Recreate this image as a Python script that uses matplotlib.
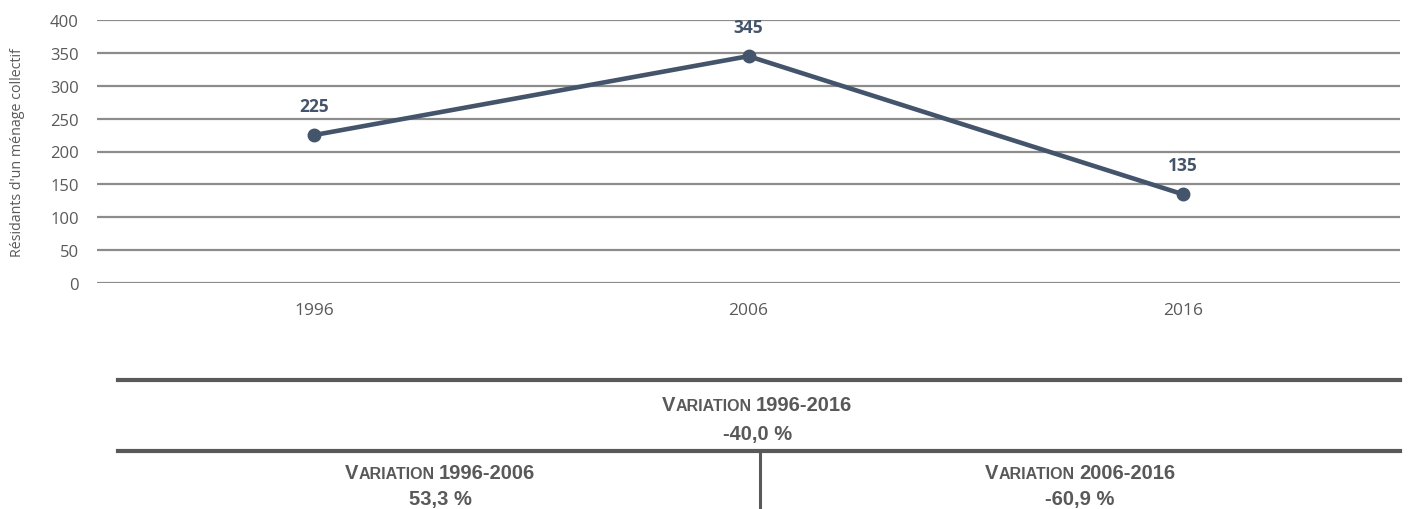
import numpy as np
import matplotlib.pyplot as plt

# data
years = ["1996", "2006", "2016"]
residents = [225, 345, 135]
yticks = [0, 50, 100, 150, 200, 250, 300, 350, 400]
ylabel = "Résidants d'un ménage collectif"

total_title = "Variation 1996-2016"
total_value = "-40,0 %"
sub_titles = ["Variation 1996-2006", "Variation 2006-2016"]
sub_values = ["53,3 %", "-60,9 %"]

line_col = "#44546A"
grey = "#595959"
W, H = 1416, 510

plt.rcParams['font.family'] = ['Open Sans', 'DejaVu Sans']

fig = plt.figure(figsize=(W / 100, H / 100), dpi=100)
ax = fig.add_axes([97 / W, 1 - 284 / H, (1400 - 97) / W, (284 - 21) / H])

x = np.arange(len(years))
ax.plot(x, residents, color=line_col, lw=3.3, marker="o", ms=9, zorder=3)
for xi, v in zip(x, residents):
    ax.annotate(str(v), (xi, v), xytext=(0, 21), textcoords="offset points",
                ha="center", va="center", fontsize=12.5, fontweight="bold",
                color=line_col)

ax.set_xlim(-0.5, len(years) - 0.5)
ax.set_ylim(0, 400)
ax.set_yticks(yticks)
ax.set_xticks(x)
ax.set_xticklabels(years)
ax.yaxis.grid(True, color="#8C8C8C", lw=1.6)
ax.set_axisbelow(True)
for s in ax.spines.values():
    s.set_visible(False)
ax.tick_params(axis="y", length=0, pad=13, labelsize=12, labelcolor=grey)
ax.tick_params(axis="x", length=0, pad=14, labelsize=12.5, labelcolor=grey)
ax.set_ylabel(ylabel, fontsize=10.3, color=grey)
ax.yaxis.set_label_coords(-0.0555, 0.5)

# summary table below the chart
def fx(px):
    return px / W

def fy(py):
    return 1 - py / H

for yy in (381, 452):
    fig.add_artist(plt.Line2D([fx(118), fx(1400)], [fy(yy), fy(yy)],
                              color=grey, lw=3))
fig.add_artist(plt.Line2D([fx(760), fx(760)], [fy(452), fy(512)],
                          color=grey, lw=2.2))

arial = ['Liberation Sans', 'DejaVu Sans']
renderer = fig.canvas.get_renderer()


def small_caps(cx, cy, txt, big=14.5, small=11.5):
    # capital letters big, the rest upper-cased and smaller
    parts = []
    for word in txt.split(" "):
        if parts:
            parts.append((" ", small))
        if word[0].isalpha():
            parts.append((word[0].upper(), big))
            if len(word) > 1:
                parts.append((word[1:].upper(), small))
        else:
            parts.append((word, big))
    widths = []
    for t, sz in parts:
        tmp = fig.text(0, 0, t, fontsize=sz, fontweight="bold", family=arial)
        widths.append(tmp.get_window_extent(renderer).width)
        tmp.remove()
    start = cx - sum(widths) / 2
    for (t, sz), w in zip(parts, widths):
        fig.text(fx(start), fy(cy), t, fontsize=sz, fontweight="bold",
                 family=arial, color=grey, ha="left", va="baseline")
        start += w


small_caps(757, 411, total_title)
fig.text(fx(758), fy(440), total_value, fontsize=14.5, fontweight="bold",
         family=arial, color=grey, ha="center", va="baseline")
for cx, t, v in zip((440, 1080), sub_titles, sub_values):
    small_caps(cx, 479, t)
    fig.text(fx(cx), fy(505), v, fontsize=14.5, fontweight="bold",
             family=arial, color=grey, ha="center", va="baseline")

fig.savefig("out.png", dpi=100)
